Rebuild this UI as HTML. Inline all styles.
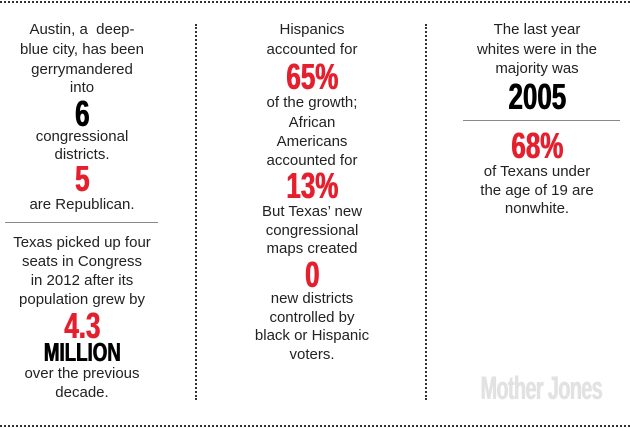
<!DOCTYPE html>
<html><head><style>
html,body{margin:0;padding:0;background:#fff;width:630px;height:428px;overflow:hidden;position:relative}
.t{position:absolute;width:240px;margin-left:-120px;text-align:center;font-family:"Liberation Sans",sans-serif;font-size:15px;color:#222;line-height:18px;white-space:nowrap}
.b{position:absolute;width:240px;margin-left:-120px;text-align:center;font-family:"Liberation Sans",sans-serif;font-weight:bold;font-size:36px;line-height:36px;transform:scaleX(0.72);white-space:nowrap}
.r{color:#e5202e;text-shadow:1px 0 0 #e5202e}.k{color:#000;text-shadow:1px 0 0 #000}
.hd{position:absolute;left:0;width:630px;height:0;border-top:2px dotted #333}
.vd{position:absolute;top:24px;height:376px;width:0;border-left:2px dotted #333}
.hr{position:absolute;height:0;border-top:1px solid #888}
</style></head><body>
<div class="hd" style="top:1px"></div>
<div class="hd" style="top:425px"></div>
<div class="vd" style="left:195px"></div>
<div class="vd" style="left:425px"></div>
<div class="hr" style="left:5px;width:153px;top:222px"></div>
<div class="hr" style="left:463px;width:157px;top:120px"></div>

<div class="t" style="left:82px;top:21px">Austin, a &nbsp;deep-</div>
<div class="t" style="left:82px;top:41px">blue city, has been</div>
<div class="t" style="left:82px;top:61px">gerrymandered</div>
<div class="t" style="left:82px;top:79px">into</div>
<div class="b k" style="left:82px;top:96px">6</div>
<div class="t" style="left:82px;top:128px">congressional</div>
<div class="t" style="left:82px;top:146px">districts.</div>
<div class="b r" style="left:82px;top:161px">5</div>
<div class="t" style="left:82px;top:196px">are Republican.</div>
<div class="t" style="left:82px;top:234px">Texas picked up four</div>
<div class="t" style="left:82px;top:253px">seats in Congress</div>
<div class="t" style="left:82px;top:272px">in 2012 after its</div>
<div class="t" style="left:82px;top:291px">population grew by</div>
<div class="b r" style="left:82px;top:308px">4.3</div>
<div class="b k" style="left:82px;top:339px;font-size:26px;line-height:26px">MILLION</div>
<div class="t" style="left:82px;top:365px">over the previous</div>
<div class="t" style="left:82px;top:384px">decade.</div>

<div class="t" style="left:312px;top:21px">Hispanics</div>
<div class="t" style="left:312px;top:41px">accounted for</div>
<div class="b r" style="left:312px;top:59px">65%</div>
<div class="t" style="left:312px;top:94px">of the growth;</div>
<div class="t" style="left:312px;top:114px">African</div>
<div class="t" style="left:312px;top:133px">Americans</div>
<div class="t" style="left:312px;top:152px">accounted for</div>
<div class="b r" style="left:312px;top:168px">13%</div>
<div class="t" style="left:312px;top:203px">But Texas’ new</div>
<div class="t" style="left:312px;top:222px">congressional</div>
<div class="t" style="left:312px;top:240px">maps created</div>
<div class="b r" style="left:312px;top:257px">0</div>
<div class="t" style="left:312px;top:290px">new districts</div>
<div class="t" style="left:312px;top:309px">controlled by</div>
<div class="t" style="left:312px;top:327px">black or Hispanic</div>
<div class="t" style="left:312px;top:346px">voters.</div>

<div class="t" style="left:537px;top:21px">The last year</div>
<div class="t" style="left:537px;top:41px">whites were in the</div>
<div class="t" style="left:537px;top:60px">majority was</div>
<div class="b k" style="left:537px;top:79px">2005</div>
<div class="b r" style="left:537px;top:128px">68%</div>
<div class="t" style="left:537px;top:163px">of Texans under</div>
<div class="t" style="left:537px;top:182px">the age of 19 are</div>
<div class="t" style="left:537px;top:200px">nonwhite.</div>

<div class="b" style="left:541px;top:372px;font-size:32px;line-height:32px;color:#e2e2e2;text-shadow:1px 0 0 #e2e2e2;transform:scaleX(0.62);letter-spacing:-1px">Mother Jones</div>
</body></html>
